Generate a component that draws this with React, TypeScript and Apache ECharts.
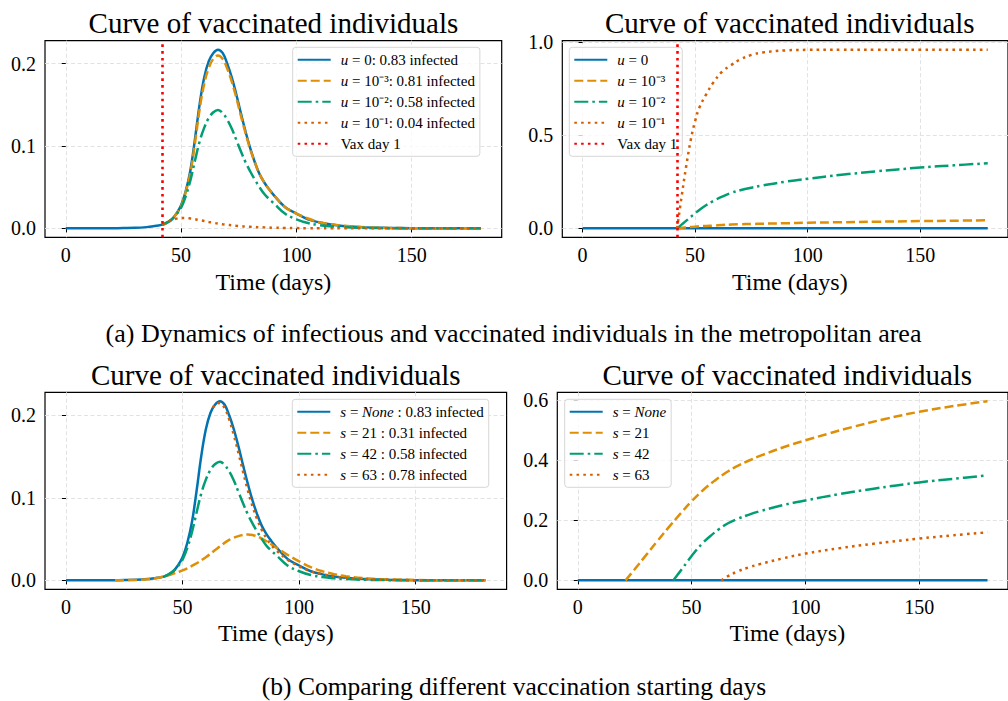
import { useEffect, useRef } from "react";
import * as echarts from "echarts";

const FONT = '"Liberation Serif", "Times New Roman", serif';

// ---------- data ----------
const DAYS_FULL = [0, 10, 20, 25, 30, 35, 38, 40, 42, 44, 46, 48, 50, 52, 54, 56, 58, 60, 62, 64, 66, 68, 70, 72, 74, 76, 78, 80, 82, 84, 86, 88, 90, 95, 100, 105, 110, 115, 120, 130, 140, 150, 165, 180];
const DAYS_U = [42, 44, 46, 48, 50, 52, 54, 56, 58, 60, 62, 64, 66, 68, 70, 72, 74, 76, 78, 80, 82, 84, 86, 88, 90, 95, 100, 105, 110, 115, 120, 130, 140, 150, 165, 180];

// infectious (panel a, left)
const I_NONE = [0, 0.00002, 0.0001, 0.0003, 0.0006, 0.0015, 0.0025, 0.0035,
  0.0045, 0.007, 0.011, 0.018, 0.028, 0.045, 0.07, 0.108, 0.15, 0.183, 0.203, 0.213, 0.217, 0.213, 0.2, 0.183, 0.162, 0.139, 0.117, 0.097, 0.08, 0.066, 0.056, 0.048, 0.041,
  0.026, 0.018, 0.011, 0.0072, 0.0046, 0.003, 0.0012, 0.0005, 0.0002, 0.00005, 0];
const I_U3 = [0.0045, 0.0073, 0.011, 0.018, 0.027, 0.044, 0.067, 0.103, 0.144, 0.175, 0.195, 0.206, 0.21, 0.206, 0.194, 0.178, 0.158, 0.136, 0.115, 0.096, 0.08, 0.066, 0.056, 0.048, 0.041,
  0.026, 0.018, 0.012, 0.0075, 0.005, 0.0032, 0.0013, 0.0005, 0.0002, 0.0001, 0];
const I_U2 = [0.0045, 0.0072, 0.011, 0.017, 0.025, 0.039, 0.058, 0.082, 0.105, 0.122, 0.134, 0.141, 0.1438, 0.14, 0.132, 0.121, 0.107, 0.093, 0.08, 0.069, 0.059, 0.05, 0.042, 0.036, 0.031,
  0.018, 0.011, 0.0065, 0.004, 0.0025, 0.0015, 0.0006, 0.0002, 0.0001, 0, 0];
const I_U1 = [0.0045, 0.0075, 0.01, 0.0118, 0.0126, 0.0127, 0.0121, 0.0111, 0.01, 0.009, 0.0078, 0.0068, 0.0058, 0.005, 0.0043, 0.0037, 0.0031, 0.0026, 0.0022, 0.0019, 0.0016, 0.0014, 0.0012, 0.001, 0.0008,
  0.0005, 0.0003, 0.0002, 0.0001, 0.0001, 0, 0, 0, 0, 0, 0];

// vaccinated (panel a, right)
const DAYS_ZERO = [0, 180];
const V_ZERO = [0, 0];
const DAYS_V = [42, 44, 46, 48, 50, 52, 55, 58, 62, 66, 70, 75, 80, 90, 100, 115, 130, 150, 165, 180];
const V_U3 = [0, 0.003, 0.005, 0.007, 0.009, 0.011, 0.013, 0.015, 0.018, 0.0205, 0.022, 0.0235, 0.025, 0.0275, 0.03, 0.033, 0.0355, 0.039, 0.041, 0.043];
const V_U2 = [0, 0.02, 0.04, 0.061, 0.081, 0.1, 0.125, 0.146, 0.17, 0.19, 0.204, 0.218, 0.23, 0.25, 0.266, 0.287, 0.305, 0.326, 0.338, 0.349];
const V_U1 = [0, 0.17, 0.33, 0.47, 0.575, 0.65, 0.72, 0.78, 0.84, 0.875, 0.905, 0.93, 0.943, 0.954, 0.957, 0.958, 0.958, 0.958, 0.958, 0.958];
const VAX_DAY = 42;

// infectious (panel b, left)
const DAYS_S21 = [21, 25, 30, 35, 40, 45, 50, 55, 60, 65, 70, 75, 78, 80, 85, 90, 95, 100, 105, 110, 115, 120, 130, 140, 150, 165, 180];
const I_S21 = [0.0001, 0.0002, 0.0005, 0.0012, 0.0035, 0.007, 0.012, 0.019, 0.028, 0.039, 0.049, 0.0545, 0.0555, 0.055, 0.049, 0.04, 0.031, 0.023, 0.016, 0.011, 0.0075, 0.005, 0.0022, 0.001, 0.0004, 0.0001, 0];
const DAYS_S63 = [63, 64, 66, 68, 70, 72, 74, 76, 78, 80, 82, 84, 86, 88, 90, 95, 100, 105, 110, 115, 120, 130, 140, 150, 165, 180];
const I_S63 = [0.209, 0.213, 0.215, 0.209, 0.195, 0.176, 0.154, 0.131, 0.109, 0.09, 0.074, 0.061, 0.051, 0.043, 0.037, 0.025, 0.017, 0.011, 0.0075, 0.005, 0.0032, 0.0013, 0.0005, 0.0002, 0.0001, 0];

// vaccinated (panel b, right)
const DAYS_VS21 = [21, 25, 30, 35, 40, 45, 50, 55, 60, 65, 70, 75, 80, 90, 100, 110, 120, 135, 150, 165, 180];
const V_S21 = [0, 0.037, 0.084, 0.131, 0.177, 0.221, 0.263, 0.3, 0.331, 0.358, 0.38, 0.398, 0.414, 0.442, 0.466, 0.488, 0.509, 0.537, 0.561, 0.58, 0.596];
const DAYS_VS63 = [63, 66, 70, 75, 80, 90, 100, 115, 130, 150, 165, 180];
const V_S63 = [0, 0.014, 0.029, 0.043, 0.054, 0.073, 0.089, 0.107, 0.122, 0.139, 0.15, 0.16];

const X_TICKS = [0, 50, 100, 150];
const Y_TICKS = [
  [0, 0.1, 0.2],
  [0, 0.5, 1.0],
  [0, 0.1, 0.2],
  [0, 0.2, 0.4, 0.6],
];

const LABELS: Record<string, string> = {
  a_u0: "{i|u} = 0: 0.83 infected",
  a_u3: "{i|u} = 10⁻³: 0.81 infected",
  a_u2: "{i|u} = 10⁻²: 0.58 infected",
  a_u1: "{i|u} = 10⁻¹: 0.04 infected",
  a_vax: "Vax day 1",
  b_u0: "{i|u} = 0",
  b_u3: "{i|u} = 10⁻³",
  b_u2: "{i|u} = 10⁻²",
  b_u1: "{i|u} = 10⁻¹",
  b_vax: "Vax day 1",
  c_none: "{i|s} = {i|None} : 0.83 infected",
  c_21: "{i|s} = 21 : 0.31 infected",
  c_42: "{i|s} = 42 : 0.58 infected",
  c_63: "{i|s} = 63 : 0.78 infected",
  d_none: "{i|s} = {i|None}",
  d_21: "{i|s} = 21",
  d_42: "{i|s} = 42",
  d_63: "{i|s} = 63",
};

// ---------- styling ----------
const C_BLUE = "#0173b2";
const C_ORANGE = "#de8f05";
const C_GREEN = "#029e73";
const C_RED = "#d55e00";
const SOLID = "solid";
const DASH = [9, 4];
const DASHDOT = [14, 4, 2.6, 4];
const DOT = [2.6, 4.2];

const GRIDS = [
  { left: 45, top: 40.7, width: 456.7, height: 196.6 },
  { left: 562.3, top: 40.7, width: 455, height: 196.6 },
  { left: 45, top: 392.3, width: 461.6, height: 197 },
  { left: 557.3, top: 392.3, width: 460, height: 197 },
];

function pairs(xs: number[], ys: number[]) {
  return xs.map((x, i) => [x, ys[i]]);
}

function lineSeries(name: string, gi: number, xs: number[], ys: number[], color: string, type: any) {
  return {
    name,
    type: "line",
    xAxisIndex: gi,
    yAxisIndex: gi,
    data: pairs(xs, ys),
    symbol: "none",
    showSymbol: false,
    smooth: 0.4,
    lineStyle: { color, width: 2.5, type, cap: "butt" },
    itemStyle: { color },
    emphasis: { disabled: true },
    silent: true,
  };
}

function vaxSeries(name: string, gi: number) {
  return {
    name,
    type: "line",
    xAxisIndex: gi,
    yAxisIndex: gi,
    data: [],
    symbol: "none",
    lineStyle: { color: "#ff0000", width: 2.6, type: DOT },
    itemStyle: { color: "#ff0000" },
    silent: true,
    z: 5,
    markLine: {
      silent: true,
      symbol: ["none", "none"],
      label: { show: false },
      emphasis: { disabled: true },
      lineStyle: { color: "#ff0000", width: 2.6, type: DOT },
      data: [{ xAxis: VAX_DAY }],
    },
  };
}

function limits(arrs: number[][]) {
  let mx = -Infinity;
  let mn = Infinity;
  arrs.forEach((a) => a.forEach((v) => { mx = Math.max(mx, v); mn = Math.min(mn, v); }));
  const r = mx - mn;
  return [mn - 0.05 * r, mx + 0.05 * r];
}

function xAxis(gi: number) {
  return {
    gridIndex: gi,
    type: "value",
    min: -9,
    max: 189,
    splitNumber: 4,
    axisLine: { show: false },
    axisTick: { show: true, length: 4, customValues: X_TICKS, lineStyle: { color: "#000", width: 1 } },
    axisLabel: {
      customValues: X_TICKS,
      formatter: (v: number) => (X_TICKS.some((t) => Math.abs(t - v) < 1e-6) ? String(v) : ""),
      fontFamily: FONT,
      fontSize: 20,
      color: "#000",
      margin: 8,
    },
    splitLine: { show: true, lineStyle: { color: "#e2e2e2", type: [4, 2.5], width: 1 } },
  };
}

function yAxis(gi: number, lim: number[]) {
  const ticks = Y_TICKS[gi];
  const step = ticks[1] - ticks[0];
  return {
    gridIndex: gi,
    type: "value",
    min: lim[0],
    max: lim[1],
    splitNumber: ticks.length - 1,
    axisLine: { show: false },
    axisTick: { show: true, length: 4, customValues: ticks, lineStyle: { color: "#000", width: 1 } },
    axisLabel: {
      customValues: ticks,
      formatter: (v: number) => (ticks.some((t) => Math.abs(t - v) < step * 1e-4) ? v.toFixed(1) : ""),
      fontFamily: FONT,
      fontSize: 20,
      color: "#000",
      margin: 9,
    },
    splitLine: { show: true, lineStyle: { color: "#e2e2e2", type: [4, 2.5], width: 1 } },
  };
}

function legend(names: string[], left: number, top: number) {
  return {
    show: true,
    orient: "vertical",
    left,
    top,
    data: names,
    selectedMode: false,
    itemWidth: 33,
    itemHeight: 14,
    itemGap: 6,
    padding: [5, 5, 5, 4],
    backgroundColor: "rgba(255,255,255,0.8)",
    borderColor: "#d6d6d6",
    borderWidth: 1,
    borderRadius: 3,
    itemStyle: { opacity: 0, borderWidth: 0, color: "transparent" },
    formatter: (n: string) => LABELS[n] || n,
    textStyle: {
      fontFamily: FONT,
      fontSize: 15,
      color: "#000",
      lineHeight: 14,
      padding: [0, 0, 0, 5],
      rich: {
        i: { fontFamily: FONT, fontSize: 15, fontStyle: "italic", color: "#000", lineHeight: 14 },
      },
    },
  };
}

function text(x: number, y: number, s: string, size: number) {
  return {
    type: "text",
    x,
    y,
    silent: true,
    style: {
      text: s,
      fontFamily: FONT,
      fontSize: size,
      fill: "#000",
      align: "center",
      verticalAlign: "middle",
      textAlign: "center",
      textVerticalAlign: "middle",
    },
  };
}

export default function App() {
  const ref = useRef<HTMLDivElement>(null);
  useEffect(() => {
    document.body.style.margin = "0";
    const chart = echarts.init(ref.current!, undefined, { renderer: "svg" });
    const limA = limits([I_NONE, I_U3, I_U2, I_U1]);
    const limB = limits([V_ZERO, V_U3, V_U2, V_U1]);
    const limC = limits([I_NONE, I_S21, I_U2, I_S63]);
    const limD = limits([V_ZERO, V_S21, V_U2, V_S63]);

    const option: any = {
      animation: false,
      backgroundColor: "#fff",
      grid: GRIDS.map((g) => ({ ...g, show: true, borderColor: "#000", borderWidth: 1.2, backgroundColor: "transparent", containLabel: false })),
      xAxis: [0, 1, 2, 3].map((i) => xAxis(i)),
      yAxis: [yAxis(0, limA), yAxis(1, limB), yAxis(2, limC), yAxis(3, limD)],
      legend: [
        legend(["a_u0", "a_u3", "a_u2", "a_u1", "a_vax"], 292.7, 47.3),
        legend(["b_u0", "b_u3", "b_u2", "b_u1", "b_vax"], 569.3, 47.3),
        legend(["c_none", "c_21", "c_42", "c_63"], 292.3, 399.3),
        legend(["d_none", "d_21", "d_42", "d_63"], 564.7, 399.3),
      ],
      series: [
        lineSeries("a_u0", 0, DAYS_FULL, I_NONE, C_BLUE, SOLID),
        lineSeries("a_u3", 0, DAYS_U, I_U3, C_ORANGE, DASH),
        lineSeries("a_u2", 0, DAYS_U, I_U2, C_GREEN, DASHDOT),
        lineSeries("a_u1", 0, DAYS_U, I_U1, C_RED, DOT),
        vaxSeries("a_vax", 0),

        lineSeries("b_u0", 1, DAYS_ZERO, V_ZERO, C_BLUE, SOLID),
        lineSeries("b_u3", 1, DAYS_V, V_U3, C_ORANGE, DASH),
        lineSeries("b_u2", 1, DAYS_V, V_U2, C_GREEN, DASHDOT),
        lineSeries("b_u1", 1, DAYS_V, V_U1, C_RED, DOT),
        vaxSeries("b_vax", 1),

        lineSeries("c_none", 2, DAYS_FULL, I_NONE, C_BLUE, SOLID),
        lineSeries("c_21", 2, DAYS_S21, I_S21, C_ORANGE, DASH),
        lineSeries("c_42", 2, DAYS_U, I_U2, C_GREEN, DASHDOT),
        lineSeries("c_63", 2, DAYS_S63, I_S63, C_RED, DOT),

        lineSeries("d_none", 3, DAYS_ZERO, V_ZERO, C_BLUE, SOLID),
        lineSeries("d_21", 3, DAYS_VS21, V_S21, C_ORANGE, DASH),
        lineSeries("d_42", 3, DAYS_V, V_U2, C_GREEN, DASHDOT),
        lineSeries("d_63", 3, DAYS_VS63, V_S63, C_RED, DOT),
      ],
      graphic: [
        text(273.4, 22.5, "Curve of vaccinated individuals", 29),
        text(789.8, 22.5, "Curve of vaccinated individuals", 29),
        text(275.8, 375, "Curve of vaccinated individuals", 29),
        text(787.3, 375, "Curve of vaccinated individuals", 29),
        text(273.4, 281.7, "Time (days)", 24),
        text(789.8, 281.7, "Time (days)", 24),
        text(275.8, 633.3, "Time (days)", 24),
        text(787.3, 633.3, "Time (days)", 24),
        text(513.5, 333, "(a) Dynamics of infectious and vaccinated individuals in the metropolitan area", 26),
        text(514, 686, "(b) Comparing different vaccination starting days", 25.5),
      ],
    };
    chart.setOption(option);
    return () => chart.dispose();
  }, []);
  return <div ref={ref} style={{ position: "absolute", left: 0, top: 0, width: 1008, height: 701 }} />;
}
